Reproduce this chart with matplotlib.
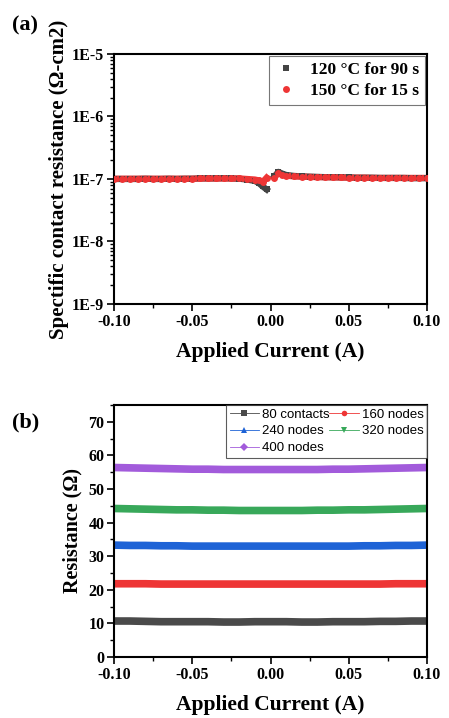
import numpy as np
import matplotlib.pyplot as plt
from matplotlib.ticker import MultipleLocator, FixedLocator, LogLocator, NullFormatter

plt.rcParams['font.family'] = ['Liberation Serif', 'DejaVu Serif']
plt.rcParams['font.weight'] = 'bold'

# (a) specific contact resistance vs current
cur_a = [-0.100, -0.095, -0.090, -0.085, -0.080, -0.075, -0.070, -0.065, -0.060, -0.055,
         -0.050, -0.045, -0.040, -0.035, -0.030, -0.025, -0.020, -0.015, -0.010, -0.0075,
         -0.005, -0.0025, np.nan, 0.0025, 0.005, 0.0075, 0.010, 0.015, 0.020, 0.025,
         0.030, 0.035, 0.040, 0.045, 0.050, 0.055, 0.060, 0.065, 0.070, 0.075,
         0.080, 0.085, 0.090, 0.095, 0.100]
rc_120 = [1.00, 1.00, 1.00, 1.00, 1.01, 1.00, 1.00, 1.01, 1.00, 1.01,
          1.01, 1.02, 1.02, 1.02, 1.03, 1.02, 1.01, 0.98, 0.93, 0.86,
          0.76, 0.68, np.nan, 1.10, 1.30, 1.22, 1.16, 1.12, 1.10, 1.09,
          1.08, 1.07, 1.07, 1.06, 1.06, 1.05, 1.05, 1.05, 1.04, 1.04,
          1.04, 1.04, 1.03, 1.03, 1.03]
rc_150 = [1.01, 1.01, 1.01, 1.01, 1.01, 1.01, 1.01, 1.01, 1.01, 1.01,
          1.01, 1.02, 1.02, 1.02, 1.02, 1.02, 1.02, 1.00, 0.98, 0.95,
          0.90, 1.05, np.nan, 1.05, 1.25, 1.18, 1.13, 1.10, 1.09, 1.08,
          1.07, 1.07, 1.06, 1.06, 1.05, 1.05, 1.05, 1.04, 1.04, 1.04,
          1.04, 1.04, 1.04, 1.04, 1.04]
labels_a = ['120 °C for 90 s', '150 °C for 15 s']

# (b) resistance vs current
cur_b = [-0.10, -0.09, -0.08, -0.07, -0.06, -0.05, -0.04, -0.03, -0.02, -0.01, 0.00,
         0.01, 0.02, 0.03, 0.04, 0.05, 0.06, 0.07, 0.08, 0.09, 0.10]
r_80 = [10.7, 10.7, 10.6, 10.5, 10.5, 10.5, 10.5, 10.4, 10.4, 10.5, 10.5,
        10.5, 10.4, 10.4, 10.5, 10.5, 10.5, 10.6, 10.6, 10.7, 10.7]
r_160 = [21.8, 21.8, 21.8, 21.7, 21.7, 21.7, 21.7, 21.7, 21.7, 21.7, 21.7,
         21.7, 21.7, 21.7, 21.7, 21.7, 21.7, 21.7, 21.8, 21.8, 21.8]
r_240 = [33.3, 33.2, 33.2, 33.1, 33.1, 33.0, 33.0, 33.0, 33.0, 33.0, 33.0,
         33.0, 33.0, 33.0, 33.0, 33.0, 33.1, 33.1, 33.2, 33.2, 33.3]
r_320 = [44.2, 44.1, 44.0, 43.9, 43.8, 43.8, 43.7, 43.7, 43.6, 43.6, 43.6,
         43.6, 43.6, 43.7, 43.7, 43.8, 43.8, 43.9, 44.0, 44.1, 44.2]
r_400 = [56.4, 56.3, 56.2, 56.1, 56.0, 55.9, 55.9, 55.8, 55.8, 55.8, 55.8,
         55.8, 55.8, 55.8, 55.9, 55.9, 56.0, 56.1, 56.2, 56.3, 56.4]
labels_b = ['80 contacts', '160 nodes', '240 nodes', '320 nodes', '400 nodes']

fig = plt.figure(figsize=(4.49, 7.18), dpi=100)
ax1 = fig.add_axes([0.254, 0.5766, 0.697, 0.3482])
ax2 = fig.add_axes([0.254, 0.0850, 0.697, 0.3509])

# --- (a)
x = np.array(cur_a)
for yv, c, m, lab in [(rc_120, '#444444', 's', labels_a[0]),
                      (rc_150, '#ee3535', 'o', labels_a[1])]:
    y = np.array(yv) * 1e-7
    ax1.plot(x, y, '-', color=c, lw=4.5, zorder=2)
    ax1.plot(x, y, m, color=c, ms=5, mew=0, label=lab, zorder=3)
ax1.set_yscale('log')
ax1.set_ylim(1e-9, 1e-5)
ax1.set_xlim(-0.1, 0.1)
ax1.set_yticks([1e-9, 1e-8, 1e-7, 1e-6, 1e-5])
ax1.set_yticklabels(['1E-9', '1E-8', '1E-7', '1E-6', '1E-5'])
ax1.yaxis.set_minor_locator(LogLocator(base=10, subs=np.arange(2, 10)))
ax1.yaxis.set_minor_formatter(NullFormatter())
ax1.set_ylabel('Spectific contact resistance (Ω-cm2)', fontsize=15, fontweight='bold', labelpad=2)
leg1 = ax1.legend(loc='upper right', borderaxespad=0.1, fancybox=False, edgecolor='#555555',
                  prop={'family': 'Liberation Serif', 'weight': 'bold', 'size': 12.5},
                  handletextpad=0.8, handlelength=1.2, labelspacing=0.3, borderpad=0.35)
leg1.get_frame().set_linewidth(0.8)

# --- (b)
series_b = [(r_80, '#4a4a4a', 's'), (r_160, '#ee3535', 'o'), (r_240, '#1e63d6', '^'),
            (r_320, '#38a85a', 'v'), (r_400, '#a25bdb', 'D')]
handles = []
for (yv, c, m), lab in zip(series_b, labels_b):
    ax2.plot(cur_b, yv, '-', color=c, lw=5.5, zorder=2, solid_capstyle='round')
    h, = ax2.plot([], [], '-', color=c, lw=0.6, marker=m, ms=4, mew=0, label=lab)
    handles.append(h)
ax2.set_xlim(-0.1, 0.1)
ax2.set_ylim(0, 75)
ax2.yaxis.set_major_locator(FixedLocator([0, 10, 20, 30, 40, 50, 60, 70]))
ax2.yaxis.set_minor_locator(MultipleLocator(5))
ax2.set_ylabel('Resistance (Ω)', fontsize=14.5, fontweight='bold')
order = [0, 2, 4, 1, 3]
leg2 = ax2.legend([handles[i] for i in order], [labels_b[i] for i in order], ncol=2,
                  loc='upper right', borderaxespad=0, fancybox=False, edgecolor='#333333',
                  prop={'family': 'Liberation Sans', 'weight': 'normal', 'size': 9.5},
                  handlelength=2.2, handletextpad=0.25, columnspacing=0.0,
                  labelspacing=0.35, borderpad=0.25)
leg2.get_frame().set_linewidth(0.8)

for ax in (ax1, ax2):
    ax.xaxis.set_major_locator(FixedLocator([-0.10, -0.05, 0.0, 0.05, 0.10]))
    ax.xaxis.set_minor_locator(MultipleLocator(0.025))
    ax.set_xticklabels(['-0.10', '-0.05', '0.00', '0.05', '0.10'])
    ax.set_xlabel('Applied Current (A)', fontsize=15.5, fontweight='bold', labelpad=9)
    ax.tick_params(which='major', direction='out', length=5, width=1.2, labelsize=11.5, pad=2)
    ax.tick_params(which='minor', direction='out', length=3, width=1.0)
    ax.tick_params(top=False, right=False)
    for lbl in ax.get_xticklabels() + ax.get_yticklabels():
        lbl.set_fontweight('bold')
    for s in ax.spines.values():
        s.set_linewidth(1.5)

fig.text(0.027, 0.965, '(a)', fontsize=16, fontweight='bold', va='center')
fig.text(0.027, 0.412, '(b)', fontsize=16, fontweight='bold', va='center')

fig.savefig('out.png', dpi=100)
